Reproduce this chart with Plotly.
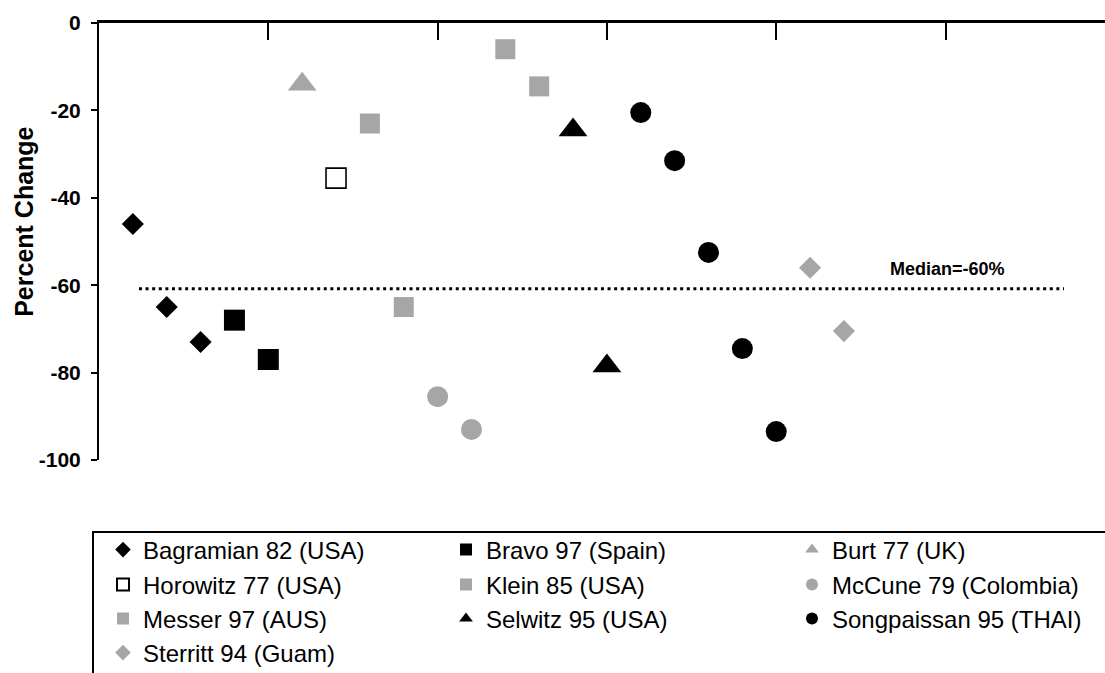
import plotly.graph_objects as go

# ---------------- data ----------------
studies = ["Bagramian 82 (USA)", "Bravo 97 (Spain)", "Burt 77 (UK)",
           "Horowitz 77 (USA)", "Klein 85 (USA)", "McCune 79 (Colombia)",
           "Messer 97 (AUS)", "Selwitz 95 (USA)", "Songpaissan 95 (THAI)",
           "Sterritt 94 (Guam)"]
study_x = [[1, 2, 3], [4, 5], [6], [7], [8, 9], [10, 11], [12, 13],
           [14, 15], [16, 17, 18, 19, 20], [21, 22]]
study_y = [[-46, -65, -73], [-68, -77], [-14], [-35.5], [-23, -65],
           [-85.5, -93], [-6, -14.5], [-24.5, -78.5],
           [-20.5, -31.5, -52.5, -74.5, -93.5], [-56, -70.5]]
median_value = -60.8
median_label = "Median=-60%"
y_ticks = [0, -20, -40, -60, -80, -100]
y_title = "Percent Change"

# ---------------- styles ----------------
GRAY = "#a6a6a6"
styles = [
    dict(symbol="diamond", size=17, color="black"),
    dict(symbol="square", size=21, color="black"),
    dict(symbol="triangle-up", size=25, color=GRAY),
    dict(symbol="square", size=20, color="white", line=dict(color="black", width=1.6)),
    dict(symbol="square", size=20, color=GRAY),
    dict(symbol="circle", size=21, color=GRAY),
    dict(symbol="square", size=20, color=GRAY),
    dict(symbol="triangle-up", size=25, color="black"),
    dict(symbol="circle", size=21, color="black"),
    dict(symbol="diamond", size=17, color=GRAY),
]

FONT = "Liberation Sans, Arial, sans-serif"

W, H = 1105, 673
L, R, T, B = 99, 0, 23, 213
plot_w = W - L - R
plot_h = H - T - B

def py(px):
    return (H - B - px) / plot_h

def px_(x):
    return (x - L) / plot_w

# legend grid: 3 columns (text start px), 4 rows (centre px)
col_text_px = [144, 487, 833]
row_px = [550, 585, 619, 653]

fig = go.Figure()
legends = {}
for i, (name, xs, ys, st) in enumerate(zip(studies, study_x, study_y, styles)):
    m = dict(st)
    if "line" not in m:
        m["line"] = dict(width=0)
    key = "legend" if i == 0 else f"legend{i + 1}"
    fig.add_trace(go.Scatter(x=xs, y=ys, mode="markers", name=name,
                             marker=m, legend=key, cliponaxis=False))
    r, c = divmod(i, 3)
    legends[key] = dict(
        orientation="h", x=px_(col_text_px[c] - 45), xanchor="left",
        y=py(row_px[r]), yanchor="middle",
        font=dict(family=FONT, size=24, color="black"),
        indentation=4, itemsizing="constant", bgcolor="rgba(0,0,0,0)",
        borderwidth=0)

fig.update_layout(
    width=W, height=H,
    margin=dict(l=L, r=R, t=T, b=B, autoexpand=False),
    paper_bgcolor="white", plot_bgcolor="white",
    font=dict(family=FONT, color="black"),
    showlegend=True,
    xaxis=dict(range=[0, 29.71], side="top", showline=True, linecolor="black",
               linewidth=2.5, ticks="inside", ticklen=17, tickwidth=2,
               tickcolor="black", tick0=0, dtick=5, showticklabels=False,
               showgrid=False, zeroline=False, automargin=False),
    yaxis=dict(range=[-100, 0], tickvals=y_ticks,
               ticktext=[str(v) for v in y_ticks], showline=True,
               linecolor="black", linewidth=2, ticks="outside", ticklen=6,
               tickwidth=2, tickcolor="black", showgrid=False, zeroline=False,
               tickfont=dict(family=FONT, size=21, color="black", weight="bold"),
               ticklabelstandoff=6, automargin=False),
    shapes=[
        dict(type="line", xref="x", yref="y", x0=1.18, x1=28.5,
             y0=median_value, y1=median_value,
             line=dict(color="black", width=3, dash="3px,3.6px")),
        dict(type="rect", xref="paper", yref="paper",
             x0=px_(93), x1=1.05, y0=py(532), y1=py(690),
             line=dict(color="black", width=2), fillcolor="rgba(0,0,0,0)",
             layer="below"),
    ],
    annotations=[
        dict(x=25.05, y=median_value, xref="x", yref="y", text=median_label,
             showarrow=False, yshift=20, xanchor="center",
             font=dict(family=FONT, size=18, color="black", weight="bold")),
        dict(x=px_(24), y=0.545, xref="paper", yref="paper", text=y_title,
             textangle=-90, showarrow=False, xanchor="center", yanchor="middle",
             font=dict(family=FONT, size=25, color="black", weight="bold")),
    ],
)
fig.update_layout(**legends)

fig.write_html("out.html", config={"displayModeBar": False},
               post_script="document.body.style.margin='0px';")
